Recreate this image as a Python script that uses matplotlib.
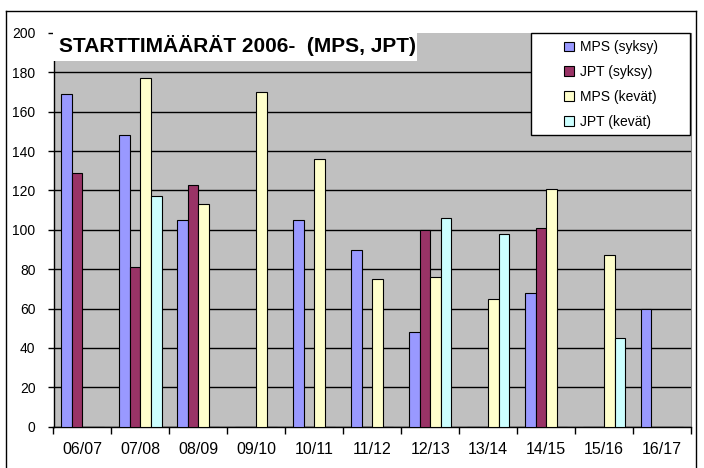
import matplotlib
matplotlib.use("Agg")
import matplotlib.pyplot as plt
import numpy as np
from matplotlib.patches import Rectangle
from matplotlib.lines import Line2D

categories = ["06/07", "07/08", "08/09", "09/10", "10/11", "11/12",
              "12/13", "13/14", "14/15", "15/16", "16/17"]
series_names = ["MPS (syksy)", "JPT (syksy)", "MPS (kevät)", "JPT (kevät)"]
mps_syksy = [169, 148, 105, 0, 105, 90, 48, 0, 68, 0, 60]
jpt_syksy = [129, 81, 123, 0, 0, 0, 100, 0, 101, 0, 0]
mps_kevat = [0, 177, 113, 170, 136, 75, 76, 65, 121, 87, 0]
jpt_kevat = [0, 117, 0, 0, 0, 0, 106, 98, 0, 45, 0]
series = [mps_syksy, jpt_syksy, mps_kevat, jpt_kevat]
colors = ["#9999FF", "#993366", "#FFFFCC", "#CCFFFF"]
title = "STARTTIMÄÄRÄT 2006-  (MPS, JPT)"
yticks = list(range(0, 201, 20))

plt.rcParams['font.family'] = ['Liberation Sans', 'DejaVu Sans']

W, H = 704, 468
fig = plt.figure(figsize=(W / 100, H / 100), dpi=100)
ax = fig.add_axes([53.5 / W, 1 - 426.7 / H, (691 - 53.5) / W, (426.7 - 33) / H])
ax.set_facecolor("#C0C0C0")

n = len(categories)
x = np.arange(n)
bw = 1 / 5.5
for i, (vals, c, name) in enumerate(zip(series, colors, series_names)):
    offs = (i - 1.5) * bw
    ax.bar(x + offs, vals, width=bw, color=c, edgecolor="black", linewidth=0.8,
           label=name, zorder=3)

ax.set_xlim(-0.5, n - 0.5)
ax.set_ylim(0, 200)
ax.set_yticks(yticks)
ax.set_yticklabels([str(v) for v in yticks], fontsize=10)
ax.yaxis.grid(True, color="black", linewidth=1.0, zorder=1)
ax.set_axisbelow(True)
ax.yaxis.get_gridlines()[-1].set_visible(False)

ax.set_xticks(np.arange(-0.5, n, 1.0))
ax.set_xticklabels([])
ax.set_xticks(x, minor=True)
ax.set_xticklabels(categories, minor=True, fontsize=11.5)
ax.tick_params(axis="x", which="major", length=5, width=1, direction="out")
ax.tick_params(axis="x", which="minor", length=0, pad=11)
ax.tick_params(axis="y", length=4, width=1, direction="out", pad=9)

ax.spines["top"].set_visible(False)
ax.spines["right"].set_color("#808080")
ax.spines["left"].set_linewidth(1.0)
ax.spines["bottom"].set_linewidth(1.0)

# Legend box (white, framed) and entries
fig.patches.append(Rectangle((530.5 / W, 1 - 135 / H), (690 - 530.5) / W, (135 - 32.7) / H,
                             transform=fig.transFigure, facecolor="white",
                             edgecolor="black", linewidth=1.0, zorder=8))
leg = fig.legend(*ax.get_legend_handles_labels(), loc="center left",
                 bbox_to_anchor=(564 / W, 1 - 84.5 / H), fontsize=10,
                 frameon=False, handlelength=0.7, handleheight=0.7,
                 handletextpad=0.45, labelspacing=0.78, borderpad=0.0,
                 borderaxespad=0.0)
leg.set_zorder(10)

# Title in white box over plot area
fig.patches.append(Rectangle((52.5 / W, 1 - 61 / H), (417 - 52.5) / W, (61 - 28) / H,
                             transform=fig.transFigure, facecolor="white",
                             edgecolor="none", zorder=5))
fig.text(59 / W, 1 - 52.5 / H, title, fontsize=15, fontweight="bold",
         ha="left", va="baseline", zorder=6)

# Outer frame
for xs, ys in [([6, 6], [11, 470]), ([6, 696], [11, 11]), ([696, 696], [11, 470])]:
    fig.lines.append(Line2D([v / W for v in xs], [1 - v / H for v in ys],
                            transform=fig.transFigure, color="black", linewidth=1.0))

fig.savefig("out.png", dpi=100)
